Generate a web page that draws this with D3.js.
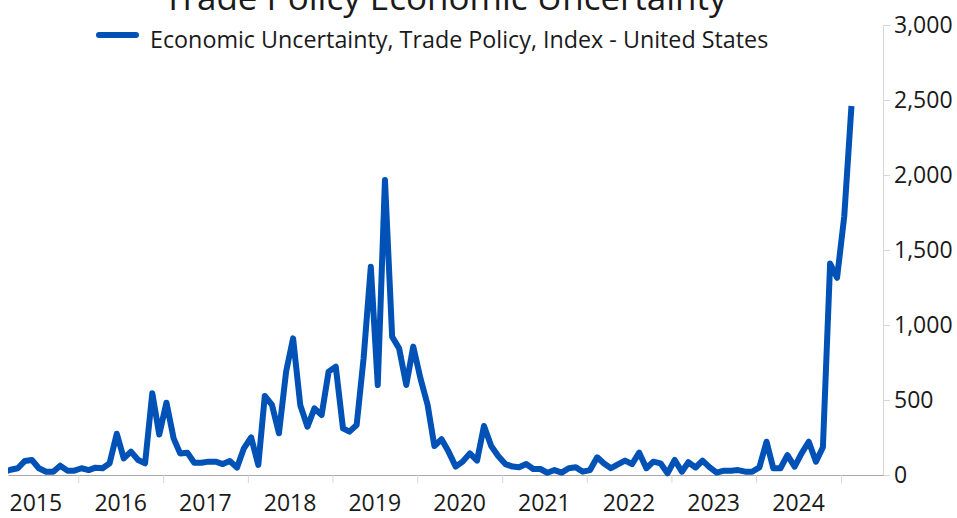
<!DOCTYPE html>
<html>
<head>
<meta charset="utf-8">
<script src="https://cdn.jsdelivr.net/npm/d3@7"></script>
<style>
  body { margin: 0; background: #fff; }
  text { font-family: "Open Sans", "Noto Sans", sans-serif; fill: #1a1a1a; }
</style>
</head>
<body>
<div id="chart"></div>
<script>
// monthly index, Jan 2015 - Feb 2025
const firstMonth = "2015-01";
const values = [
  15, 20, 35, 45, 93, 100, 45, 22, 22, 62, 29, 29,          // 2015
  45, 33, 49, 45, 78, 275, 111, 156, 100, 78, 545, 270,     // 2016
  482, 244, 144, 149, 82, 82, 89, 89, 73, 93, 49, 178,      // 2017
  251, 67, 527, 467, 278, 690, 911, 465, 322, 444, 400, 689,// 2018
  722, 311, 289, 333, 778, 1389, 600, 1967, 922, 844, 600, 856, // 2019
  644, 467, 193, 238, 156, 56, 89, 144, 96, 327, 193, 127,  // 2020
  73, 56, 51, 73, 40, 40, 15, 33, 16, 45, 51, 22,           // 2021
  33, 118, 78, 45, 71, 96, 73, 149, 45, 89, 78, 11,         // 2022
  100, 22, 85, 50, 96, 51, 16, 29, 29, 33, 22, 22,          // 2023
  51, 222, 45, 45, 133, 56, 144, 222, 89, 185, 1410, 1315,  // 2024
  1725, 2460                                                // 2025
];
const years = [2015, 2016, 2017, 2018, 2019, 2020, 2021, 2022, 2023, 2024];
const yTicks = [0, 500, 1000, 1500, 2000, 2500, 3000];
const title = "Trade Policy Economic Uncertainty";
const seriesName = "Economic Uncertainty, Trade Policy, Index - United States";

const width = 957, height = 518;
const margin = {top: 25, right: 74, bottom: 43, left: 8};
const blue = "#0052b6";

const start = d3.timeParse("%Y-%m")(firstMonth);
const data = values.map((v, i) => ({date: d3.timeDay.offset(d3.timeMonth.offset(start, i), 14), value: v}));

const svg = d3.select("#chart").append("svg")
  .attr("width", width).attr("height", height);

const x = d3.scaleTime()
  .domain([new Date(2015, 2, 4), new Date(2025, 6, 1)])
  .range([margin.left, width - margin.right]);
const y = d3.scaleLinear()
  .domain([0, 3000])
  .range([height - margin.bottom, margin.top]);

// right axis
const yAxis = svg.append("g")
  .attr("transform", `translate(${width - margin.right},0)`)
  .call(d3.axisRight(y).tickValues(yTicks).tickFormat(d3.format(",")).tickSize(7).tickPadding(4));
yAxis.select(".domain").attr("stroke", "#d6d6d6");
yAxis.selectAll(".tick line").attr("stroke", "#d6d6d6");
yAxis.selectAll(".tick text").attr("font-size", 23).attr("fill", "#1a1a1a")
  .style("font-family", "'Open Sans', 'Noto Sans', sans-serif");

// bottom axis: ticks at year boundaries, labels mid-year
const xAxis = svg.append("g")
  .attr("transform", `translate(0,${height - margin.bottom})`)
  .call(d3.axisBottom(x).tickValues(years.map(yr => new Date(yr + 1, 0, 1))).tickFormat("").tickSize(8).tickSizeOuter(0));
xAxis.select(".domain").attr("stroke", "#a8a8a8");
xAxis.selectAll(".tick line").attr("stroke", "#d6d6d6");

svg.append("g").selectAll("text").data(years).enter().append("text")
  .attr("x", yr => x(new Date(yr, 6, 2)))
  .attr("y", height - 7)
  .attr("text-anchor", "middle")
  .attr("font-size", 23)
  .text(yr => yr);

// line
svg.append("clipPath").attr("id", "clip").append("rect")
  .attr("x", margin.left).attr("y", 0)
  .attr("width", width - margin.right - margin.left).attr("height", height);

const line = d3.line().x(d => x(d.date)).y(d => y(d.value));
svg.append("path")
  .datum(data)
  .attr("clip-path", "url(#clip)")
  .attr("fill", "none")
  .attr("stroke", blue)
  .attr("stroke-width", 6)
  .attr("stroke-linejoin", "round")
  .attr("d", line);

// title (cut off at top, as in the source)
svg.append("text")
  .attr("x", 445).attr("y", 10)
  .attr("text-anchor", "middle")
  .attr("font-size", 35)
  .text(title);

// legend
svg.append("line")
  .attr("x1", 99).attr("x2", 136).attr("y1", 35).attr("y2", 35)
  .attr("stroke", blue).attr("stroke-width", 6).attr("stroke-linecap", "round");
svg.append("text")
  .attr("x", 150).attr("y", 48)
  .attr("font-size", 23.3)
  .text(seriesName);
</script>
</body>
</html>
